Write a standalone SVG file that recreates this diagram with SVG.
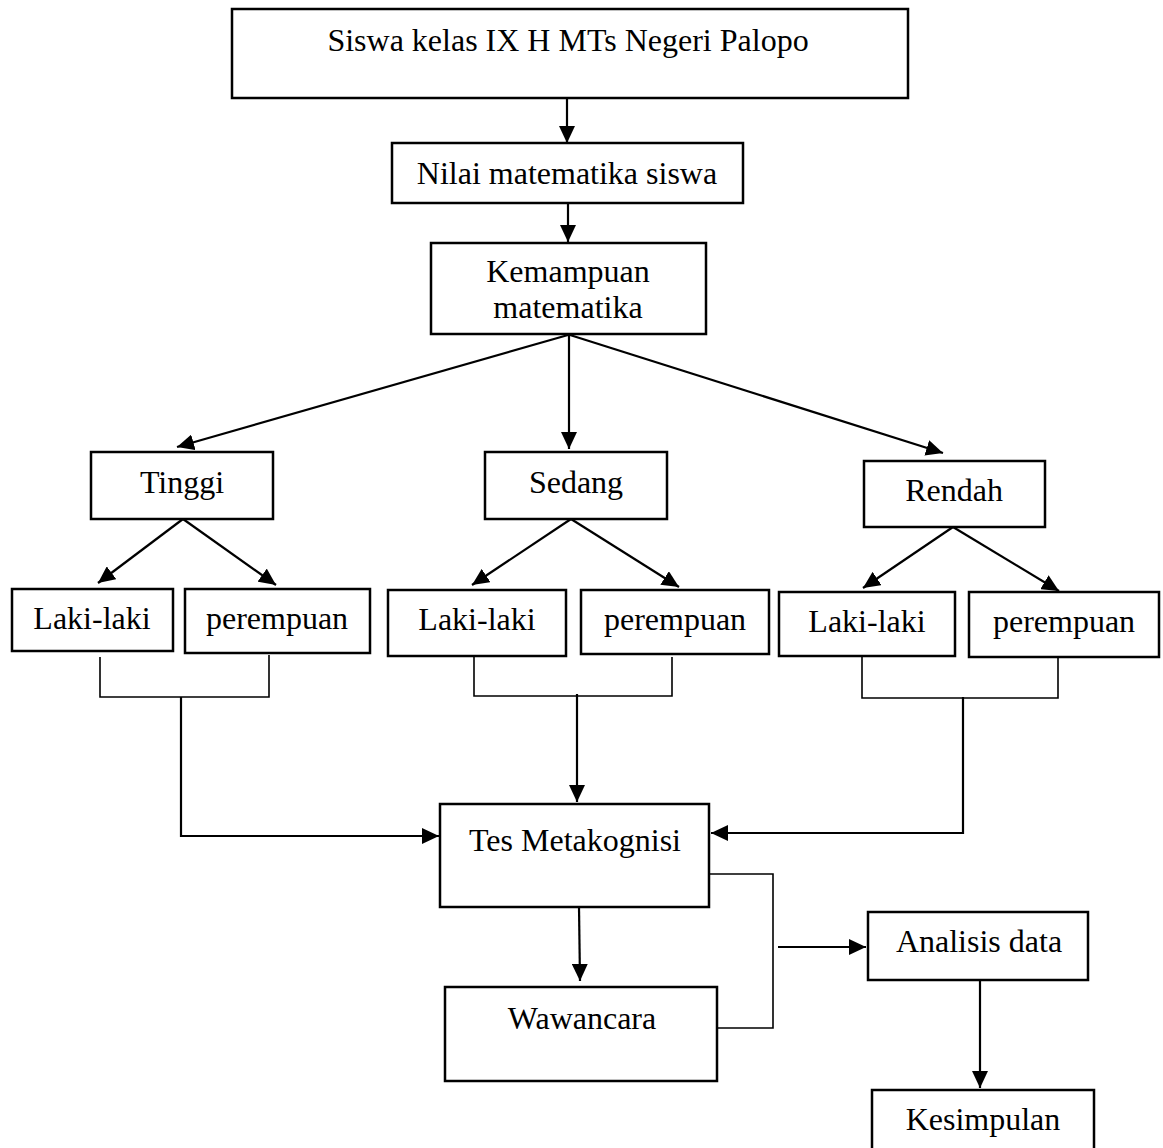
<svg xmlns="http://www.w3.org/2000/svg" width="1163" height="1148" viewBox="0 0 1163 1148">
<defs>
<style>
.box{fill:#fff;stroke:#000;stroke-width:2.5}
.t{font-family:"Liberation Serif","Times New Roman",serif;font-size:32px;fill:#000;text-anchor:middle}
.c{fill:none;stroke:#000;stroke-width:2.2}
.thin{fill:none;stroke:#000;stroke-width:1.6}
</style>
<marker id="ah" markerUnits="userSpaceOnUse" markerWidth="17" markerHeight="16" refX="17" refY="8" orient="auto" viewBox="0 0 17 16">
<path d="M0,0 L17,8 L0,16 z" fill="#000"/>
</marker>
</defs>
<g id="connectors">
<line class="c" x1="567" y1="98" x2="567" y2="143" marker-end="url(#ah)"/>
<line class="c" x1="568" y1="203" x2="568" y2="242" marker-end="url(#ah)"/>
<line class="c" x1="568" y1="335" x2="177" y2="447" marker-end="url(#ah)"/>
<line class="c" x1="569" y1="335" x2="569" y2="449" marker-end="url(#ah)"/>
<line class="c" x1="570" y1="335" x2="943" y2="453" marker-end="url(#ah)"/>
<line class="c" x1="183" y1="519" x2="98" y2="583" marker-end="url(#ah)"/>
<line class="c" x1="183" y1="519" x2="276" y2="585" marker-end="url(#ah)"/>
<line class="c" x1="571" y1="519" x2="472" y2="585" marker-end="url(#ah)"/>
<line class="c" x1="571" y1="519" x2="679" y2="587" marker-end="url(#ah)"/>
<line class="c" x1="953" y1="527" x2="863" y2="588" marker-end="url(#ah)"/>
<line class="c" x1="953" y1="527" x2="1059" y2="591" marker-end="url(#ah)"/>
<polyline class="thin" points="100,657 100,697 269,697 269,655"/>
<polyline class="thin" points="474,657 474,696 672,696 672,657"/>
<polyline class="thin" points="862,657 862,698 1058,698 1058,657"/>
<polyline class="c" points="181,697 181,836 439,836" marker-end="url(#ah)"/>
<line class="c" x1="577" y1="694" x2="577" y2="802" marker-end="url(#ah)"/>
<polyline class="c" points="963,697 963,833 711,833" marker-end="url(#ah)"/>
<line class="c" x1="579" y1="907" x2="580" y2="981" marker-end="url(#ah)"/>
<polyline class="thin" points="709,874 773,874 773,1028 713,1028"/>
<line class="c" x1="778" y1="947" x2="866" y2="947" marker-end="url(#ah)"/>
<line class="c" x1="980" y1="980" x2="980" y2="1088" marker-end="url(#ah)"/>
</g>
<g id="n-siswa"><rect class="box" x="232" y="9" width="676" height="89"/><text class="t" x="568" y="51">Siswa kelas IX H MTs Negeri Palopo</text></g>
<g id="n-nilai"><rect class="box" x="392" y="143" width="351" height="60"/><text class="t" x="567" y="184">Nilai matematika siswa</text></g>
<g id="n-kemampuan"><rect class="box" x="431" y="243" width="275" height="91"/><text class="t" x="568" y="282">Kemampuan</text><text class="t" x="568" y="318">matematika</text></g>
<g id="n-tinggi"><rect class="box" x="91" y="452" width="182" height="67"/><text class="t" x="182" y="493">Tinggi</text></g>
<g id="n-sedang"><rect class="box" x="485" y="452" width="182" height="67"/><text class="t" x="576" y="493">Sedang</text></g>
<g id="n-rendah"><rect class="box" x="864" y="461" width="181" height="66"/><text class="t" x="954" y="501">Rendah</text></g>
<g id="n-laki1"><rect class="box" x="12" y="589" width="161" height="62"/><text class="t" x="92" y="629">Laki-laki</text></g>
<g id="n-perempuan1"><rect class="box" x="185" y="589" width="185" height="64"/><text class="t" x="277" y="629">perempuan</text></g>
<g id="n-laki2"><rect class="box" x="388" y="590" width="178" height="66"/><text class="t" x="477" y="630">Laki-laki</text></g>
<g id="n-perempuan2"><rect class="box" x="581" y="590" width="188" height="64"/><text class="t" x="675" y="630">perempuan</text></g>
<g id="n-laki3"><rect class="box" x="779" y="592" width="176" height="64"/><text class="t" x="867" y="632">Laki-laki</text></g>
<g id="n-perempuan3"><rect class="box" x="969" y="592" width="190" height="65"/><text class="t" x="1064" y="632">perempuan</text></g>
<g id="n-tes"><rect class="box" x="440" y="804" width="269" height="103"/><text class="t" x="575" y="851">Tes Metakognisi</text></g>
<g id="n-wawancara"><rect class="box" x="445" y="987" width="272" height="94"/><text class="t" x="582" y="1029">Wawancara</text></g>
<g id="n-analisis"><rect class="box" x="868" y="912" width="220" height="68"/><text class="t" x="979" y="952">Analisis data</text></g>
<g id="n-kesimpulan"><rect class="box" x="872" y="1090" width="222" height="70"/><text class="t" x="983" y="1130">Kesimpulan</text></g>
</svg>
